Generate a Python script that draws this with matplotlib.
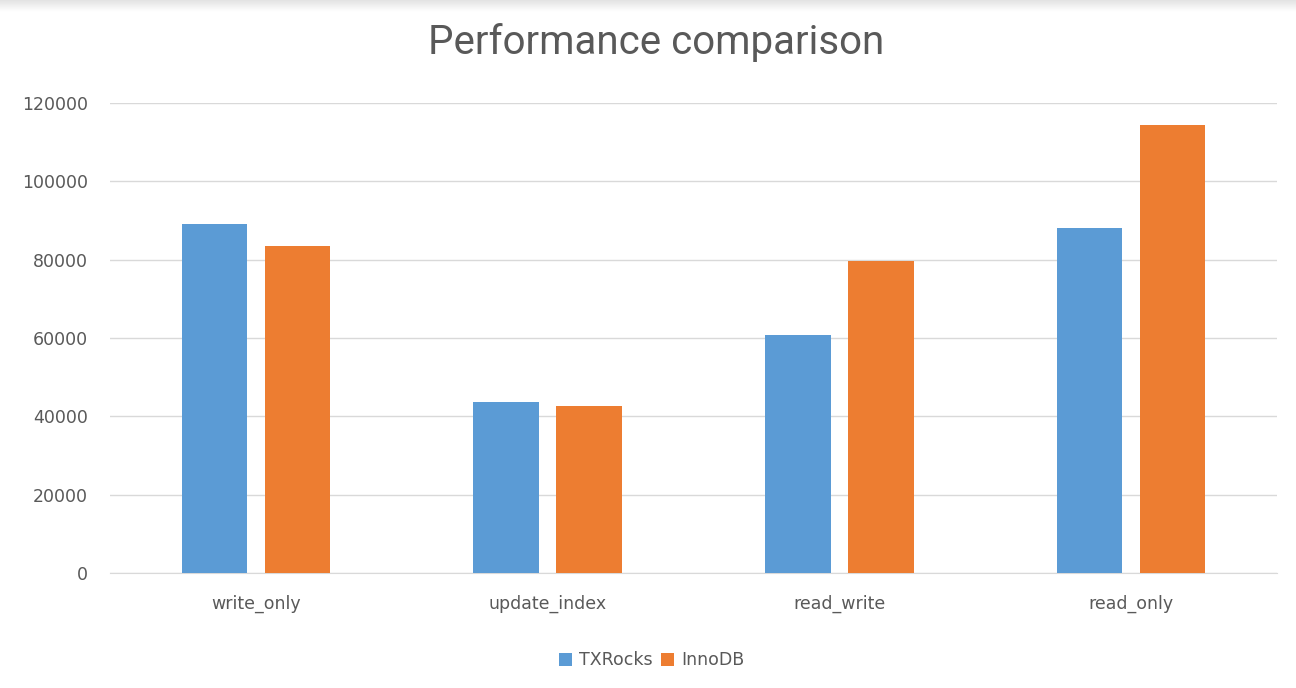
import numpy as np
import matplotlib
matplotlib.use("Agg")
import matplotlib.pyplot as plt

categories = ["write_only", "update_index", "read_write", "read_only"]
txrocks = [89100, 43600, 60700, 88200]
innodb = [83500, 42600, 79600, 114400]

plt.rcParams['font.family'] = ['DejaVu Sans']

fig = plt.figure(figsize=(12.96, 6.88), dpi=100)

# faint shadow band along the top edge
band = fig.add_axes([0, 0.982, 1, 0.018])
band.imshow(np.linspace(0.88, 1.0, 20).reshape(-1, 1), cmap="gray", vmin=0, vmax=1,
            aspect="auto", extent=[0, 1, 0, 1])
band.axis("off")

ax = fig.add_axes([0.0849, 0.1672, 0.9004, 0.6831])
x = np.arange(len(categories))
w = 0.225
off = 0.142
ax.bar(x - off, txrocks, w, color="#5B9BD5", label="TXRocks", zorder=3)
ax.bar(x + off, innodb, w, color="#ED7D31", label="InnoDB", zorder=3)

ax.set_xlim(-0.5, 3.5)
ax.set_ylim(0, 120000)
ax.set_yticks(range(0, 120001, 20000))
ax.set_xticks(x)
ax.set_xticklabels(categories)
ax.grid(axis="y", color="#D9D9D9", linewidth=1, zorder=0)
for s in ["top", "right", "left"]:
    ax.spines[s].set_visible(False)
ax.spines["bottom"].set_color("#D9D9D9")
ax.tick_params(length=0, colors="#595959", labelsize=12.5)
ax.tick_params(axis="y", pad=16)
ax.tick_params(axis="x", pad=16)

fig.text(0.506, 0.938, "Performance comparison", ha="center", va="center",
         fontsize=29, color="#595959", family="Roboto")

fig.legend(loc="center", bbox_to_anchor=(0.503, 0.04), ncol=2, frameon=False,
           fontsize=12.5, labelcolor="#595959", handlelength=0.75, handleheight=0.75,
           handletextpad=0.4, columnspacing=0.5)

fig.savefig("out.png", dpi=100)
